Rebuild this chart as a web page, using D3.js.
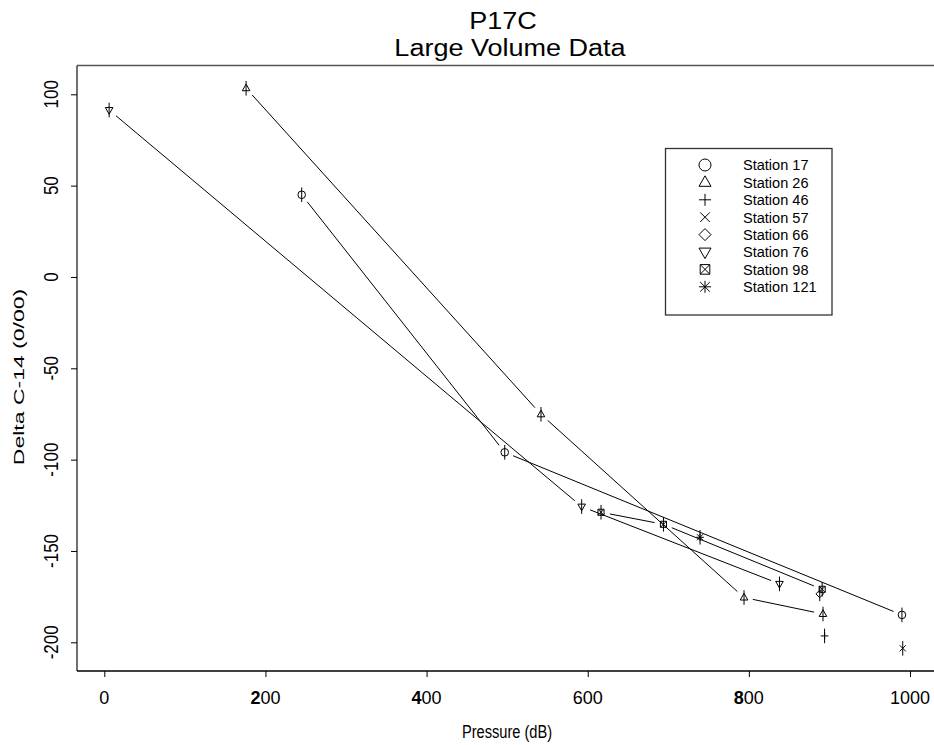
<!DOCTYPE html>
<html><head><meta charset="utf-8">
<script src="https://cdn.jsdelivr.net/npm/d3@7"></script>
<style>html,body{margin:0;padding:0;background:#fff}</style></head>
<body><svg id="c" width="934" height="745"></svg>
<script>
// ---- data ----
const titleLines = ["P17C", "Large Volume Data"];
const xLabel = "Pressure (dB)";
const yLabel = "Delta C-14 (0/00)";
const xTicks = [0, 200, 400, 600, 800, 1000];
const yTicks = [-200, -150, -100, -50, 0, 50, 100];
const boldLeadTicks = [200, 400, 800];

const stationNames = ["Station 17", "Station 26", "Station 46", "Station 57", "Station 66", "Station 76", "Station 98", "Station 121"];
const stationShapes = ["circle", "tri", "plus", "x", "diamond", "tridown", "boxx", "star"];

const st17P = [245, 497, 990],            st17V = [45, -96, -185],            st17E = [4, 4, 4];
const st26P = [176, 542, 794, 892],       st26V = [103.3, -75.2, -175.5, -184.5], st26E = [4, 4, 4, 4];
const st46P = [894],                      st46V = [-196.5],                   st46E = [4];
const st57P = [991],                      st57V = [-203.3],                   st57E = [4];
const st66P = [888],                      st66V = [-173.5],                   st66E = [4];
const st76P = [6, 592.5, 838],            st76V = [91.4, -125.7, -168],       st76E = [4, 4, 4];
const st98P = [616.5, 694, 891],          st98V = [-128.8, -135.4, -171],     st98E = [4, 4, 4];
const st121P = [739.4],                   st121V = [-142.5],                  st121E = [4];

const stationP = [st17P, st26P, st46P, st57P, st66P, st76P, st98P, st121P];
const stationV = [st17V, st26V, st46V, st57V, st66V, st76V, st98V, st121V];
const stationE = [st17E, st26E, st46E, st57E, st66E, st76E, st98E, st121E];

// ---- layout ----
const svg = d3.select("#c");
const FONT = "'Liberation Sans', Arial, Helvetica, sans-serif";
const box = {l: 77, r: 934, t: 65.5, b: 671};
const x = d3.scaleLinear().domain([0, 1000]).range([104.3, 910]);
const y = d3.scaleLinear().domain([-200, 100]).range([642.3, 94.3]);

function stext(g, tx, ty, str, size, anchor, sx, rot) {
  return g.append("text")
    .attr("transform", `translate(${tx},${ty}) scale(${sx},1)` + (rot ? ` rotate(${rot})` : ""))
    .attr("font-size", size).attr("font-family", FONT)
    .attr("text-anchor", anchor).attr("fill", "#000").text(str);
}

function sym(g, shape, cx, cy, s) {
  const p = d3.path();
  const a = s * 0.8;
  switch (shape) {
    case "circle": p.moveTo(cx + s, cy); p.arc(cx, cy, s, 0, 2 * Math.PI); break;
    case "tri": p.moveTo(cx, cy - s * 1.1); p.lineTo(cx + s, cy + s * 0.65); p.lineTo(cx - s, cy + s * 0.65); p.closePath(); break;
    case "tridown": p.moveTo(cx, cy + s * 1.1); p.lineTo(cx + s, cy - s * 0.65); p.lineTo(cx - s, cy - s * 0.65); p.closePath(); break;
    case "plus": p.moveTo(cx - s, cy); p.lineTo(cx + s, cy); p.moveTo(cx, cy - s); p.lineTo(cx, cy + s); break;
    case "x": p.moveTo(cx - a, cy - a); p.lineTo(cx + a, cy + a); p.moveTo(cx + a, cy - a); p.lineTo(cx - a, cy + a); break;
    case "diamond": p.moveTo(cx, cy - s); p.lineTo(cx + s, cy); p.lineTo(cx, cy + s); p.lineTo(cx - s, cy); p.closePath(); break;
    case "boxx": p.rect(cx - a, cy - a, 2 * a, 2 * a); p.moveTo(cx - a, cy - a); p.lineTo(cx + a, cy + a); p.moveTo(cx + a, cy - a); p.lineTo(cx - a, cy + a); break;
    case "star": p.moveTo(cx - s, cy); p.lineTo(cx + s, cy); p.moveTo(cx, cy - s); p.lineTo(cx, cy + s);
                 p.moveTo(cx - a, cy - a); p.lineTo(cx + a, cy + a); p.moveTo(cx + a, cy - a); p.lineTo(cx - a, cy + a); break;
  }
  g.append("path").attr("d", p.toString()).attr("fill", "none").attr("stroke", "#000").attr("stroke-width", 1);
}

// ---- title ----
stext(svg, 503, 29.3, titleLines[0], 23.3, "middle", 1.16);
stext(svg, 510, 56, titleLines[1], 23.3, "middle", 1.16);

// ---- frame ----
svg.append("line").attr("x1", box.l).attr("x2", box.r).attr("y1", box.t).attr("y2", box.t).attr("stroke", "#555").attr("stroke-width", 1.5);
svg.append("line").attr("x1", box.l).attr("x2", box.l).attr("y1", box.t).attr("y2", box.b).attr("stroke", "#222").attr("stroke-width", 1.3);
svg.append("line").attr("x1", box.l).attr("x2", box.r).attr("y1", box.b).attr("y2", box.b).attr("stroke", "#000").attr("stroke-width", 1.3);

// ---- axes (ticks) ----
const gx = svg.append("g").attr("transform", `translate(0,${box.b})`)
  .call(d3.axisBottom(x).tickValues(xTicks).tickSize(6).tickFormat(""));
const gy = svg.append("g").attr("transform", `translate(${box.l},0)`)
  .call(d3.axisLeft(y).tickValues(yTicks).tickSize(6).tickFormat(""));
[gx, gy].forEach(g => { g.select(".domain").remove(); g.selectAll(".tick line").attr("stroke", "#000"); });

// tick labels
xTicks.forEach(t => {
  const tx = stext(svg, x(t), 704, "", 18, "middle", 1.0);
  const s = String(t);
  if (boldLeadTicks.includes(t)) {
    tx.append("tspan").attr("font-weight", "bold").text(s[0]);
    tx.append("tspan").text(s.slice(1));
  } else tx.text(s);
});
yTicks.forEach(t => { stext(svg, 57.5, y(t), String(t), 17, "middle", 1.15, -90); });

stext(svg, 507, 738, xLabel, 19, "middle", 0.77);
stext(svg, 24, 377, yLabel, 23, "middle", 0.62, -90);

// ---- data lines (type "b": gaps round points) ----
const GAP = 9;
const gLines = svg.append("g");
const gPts = svg.append("g");
stationP.forEach((ps, i) => {
  const vs = stationV[i], es = stationE[i];
  for (let k = 0; k + 1 < ps.length; k++) {
    const x1 = x(ps[k]), y1 = y(vs[k]), x2 = x(ps[k + 1]), y2 = y(vs[k + 1]);
    const d = Math.hypot(x2 - x1, y2 - y1);
    if (d <= 2 * GAP) continue;
    const ux = (x2 - x1) / d, uy = (y2 - y1) / d;
    gLines.append("line")
      .attr("x1", x1 + ux * GAP).attr("y1", y1 + uy * GAP)
      .attr("x2", x2 - ux * GAP).attr("y2", y2 - uy * GAP)
      .attr("stroke", "#000").attr("stroke-width", 1);
  }
  ps.forEach((p, k) => {
    const cx = x(p), cy = y(vs[k]);
    gPts.append("line").attr("x1", cx).attr("x2", cx)
      .attr("y1", y(vs[k] + es[k])).attr("y2", y(vs[k] - es[k]))
      .attr("stroke", "#000").attr("stroke-width", 1);
    sym(gPts, stationShapes[i], cx, cy, 3.8);
  });
});

// ---- legend ----
const lg = svg.append("g");
lg.append("rect").attr("x", 665.5).attr("y", 148.5).attr("width", 166.5).attr("height", 166.5)
  .attr("fill", "none").attr("stroke", "#333").attr("stroke-width", 1.3);
stationNames.forEach((n, i) => {
  const cy = 165 + i * 17.4;
  sym(lg, stationShapes[i], 705, cy, 6);
  stext(lg, 743, cy + 5.3, n, 15, "start", 0.97);
});
</script></body></html>
